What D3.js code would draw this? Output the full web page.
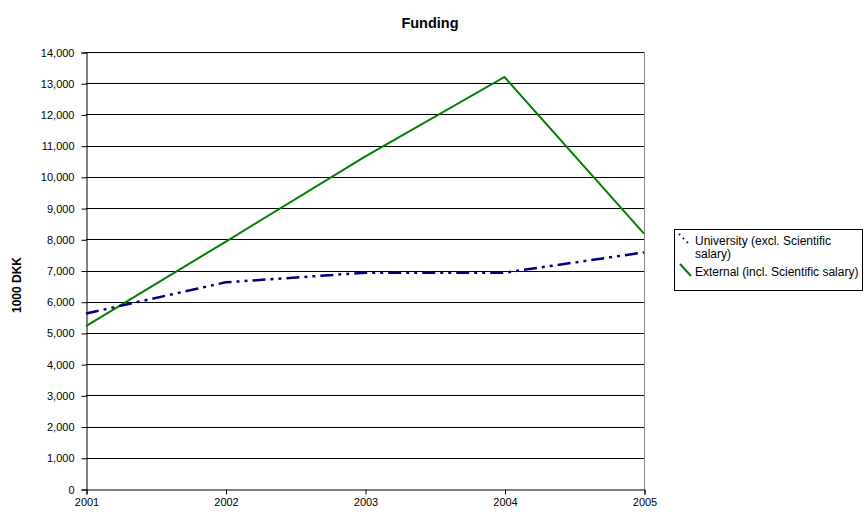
<!DOCTYPE html>
<html><head><meta charset="utf-8">
<script src="https://cdn.jsdelivr.net/npm/d3@7"></script>
<style>body{margin:0;background:#fff;} text{font-family:"Liberation Sans",Arial,sans-serif;}</style>
</head><body>
<svg id="c" width="865" height="512"></svg>
<script>
const years = [2001, 2002, 2003, 2004, 2005];
const university = [5620, 6620, 6930, 6930, 7580];
const external = [5220, 7920, 10650, 13200, 8180];
const yTicks = d3.range(0, 14001, 1000);
const seriesNames = ["University (excl. Scientific salary)", "External (incl. Scientific salary)"];

(function () {
const svg = d3.select("#c");
const pLeft = 86, pRight = 644, pTop = 52, pBottom = 489;
const x = d3.scaleLinear().domain([2001, 2005]).range([pLeft, pRight]);
const y = d3.scaleLinear().domain([0, 14000]).range([pBottom, pTop]);

// gridlines
svg.append("g").selectAll("line").data(yTicks.filter(d => d > 0)).join("line")
  .attr("x1", pLeft).attr("x2", pRight)
  .attr("y1", d => Math.round(y(d)) + 0.5).attr("y2", d => Math.round(y(d)) + 0.5)
  .attr("stroke", "#000").attr("stroke-width", 1);
// right border
svg.append("line").attr("x1", pRight + 0.5).attr("x2", pRight + 0.5).attr("y1", pTop).attr("y2", pBottom)
  .attr("stroke", "#888").attr("stroke-width", 1);

// y axis
const ya = svg.append("g").attr("transform", `translate(${pLeft + 0.5},0.5)`)
  .call(d3.axisLeft(y).tickValues(yTicks).tickFormat(d3.format(",")).tickSizeOuter(0).tickSize(5).tickPadding(7));
ya.select(".domain").attr("stroke", "#000");
ya.selectAll("text").attr("font-size", 11).attr("fill", "#000").attr("font-family", "Liberation Sans, Arial, sans-serif");

// x axis
const xa = svg.append("g").attr("transform", `translate(0.5,${pBottom + 0.5})`)
  .call(d3.axisBottom(x).tickValues(years).tickFormat(d3.format("d")).tickSizeOuter(0).tickSize(5).tickPadding(4));
xa.select(".domain").attr("stroke", "#000");
xa.selectAll("text").attr("font-size", 11).attr("fill", "#000").attr("font-family", "Liberation Sans, Arial, sans-serif");

// lines
const line = d3.line().x((d, i) => x(years[i])).y(d => y(d));
svg.append("path").datum(external).attr("d", line).attr("fill", "none")
  .attr("stroke", "#008000").attr("stroke-width", 2);
svg.append("path").datum(university).attr("d", line).attr("fill", "none")
  .attr("stroke", "#000080").attr("stroke-width", 2.5).attr("stroke-dasharray", "13,5,3,5,3,5");

// title
svg.append("text").attr("x", 430).attr("y", 28).attr("text-anchor", "middle")
  .attr("font-size", 14.5).attr("font-weight", "bold").text("Funding");
// y title
svg.append("text").attr("transform", "translate(21,285) rotate(-90)").attr("text-anchor", "middle")
  .attr("font-size", 12).attr("font-weight", "bold").text("1000 DKK");

// legend
const lg = svg.append("g");
lg.append("rect").attr("x", 674.5).attr("y", 229.5).attr("width", 188).attr("height", 61)
  .attr("fill", "#fff").attr("stroke", "#000").attr("stroke-width", 1);
lg.append("line").attr("x1", 679).attr("y1", 234).attr("x2", 690).attr("y2", 245)
  .attr("stroke", "#000080").attr("stroke-width", 2).attr("stroke-dasharray", "1.5,4");
lg.append("text").attr("x", 695).attr("y", 245).attr("font-size", 12).text("University (excl. Scientific");
lg.append("text").attr("x", 695).attr("y", 258).attr("font-size", 12).text("salary)");
lg.append("line").attr("x1", 680).attr("y1", 264).attr("x2", 691).attr("y2", 276)
  .attr("stroke", "#008000").attr("stroke-width", 2);
lg.append("text").attr("x", 695).attr("y", 276).attr("font-size", 12).text(seriesNames[1]);
})();
</script>
</body></html>
